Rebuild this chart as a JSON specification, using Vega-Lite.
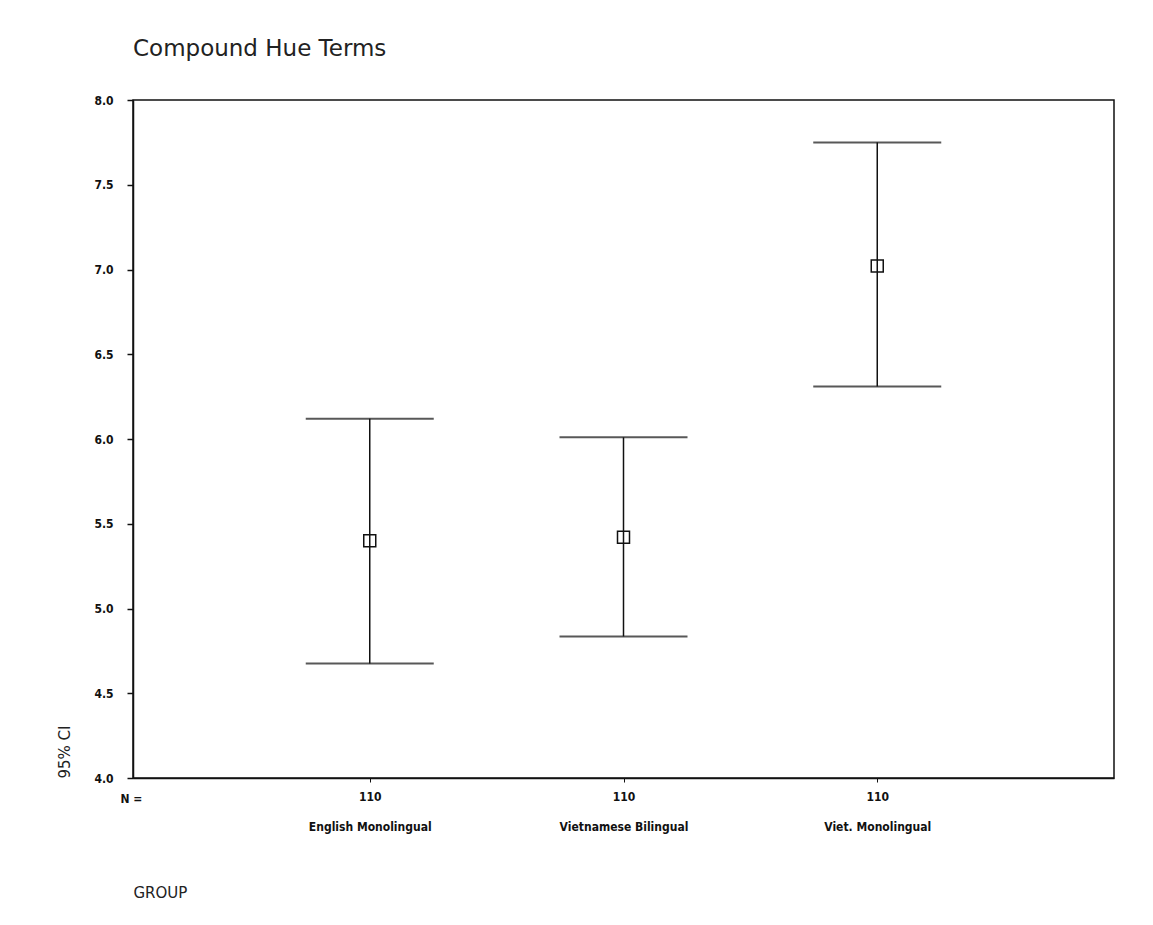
{
  "$schema": "https://vega.github.io/schema/vega-lite/v6.json",
  "autosize": "none",
  "padding": {"left": 133, "top": 100, "right": 39, "bottom": 147},
  "width": 981,
  "height": 678,
  "background": "white",
  "title": {
    "text": "Compound Hue Terms",
    "anchor": "start",
    "frame": "group",
    "font": "DejaVu Sans",
    "fontSize": 23,
    "fontWeight": "normal",
    "color": "#222222",
    "baseline": "alphabetic",
    "offset": 15
  },
  "data": {
    "values": [
      {"group": "English Monolingual", "n": 110, "mean": 5.40, "lower": 4.675, "upper": 6.12},
      {"group": "Vietnamese Bilingual", "n": 110, "mean": 5.42, "lower": 4.835, "upper": 6.01},
      {"group": "Viet. Monolingual", "n": 110, "mean": 7.02, "lower": 6.31, "upper": 7.75}
    ]
  },
  "config": {
    "view": {"stroke": "#111111", "strokeWidth": 1.5},
    "axis": {"grid": false}
  },
  "resolve": {"axis": {"x": "independent"}},
  "layer": [
    {
      "mark": {"type": "rule", "color": "#111111", "strokeWidth": 1.5},
      "encoding": {
        "x": {
          "field": "group",
          "type": "nominal",
          "sort": ["English Monolingual", "Vietnamese Bilingual", "Viet. Monolingual"],
          "scale": {"type": "point", "padding": 0.933},
          "axis": {
            "orient": "bottom",
            "title": "N =",
            "titleX": -2,
            "titleY": 20,
            "titleAlign": "center",
            "titleBaseline": "middle",
            "titleAngle": 0,
            "titleFont": "Liberation Sans Narrow, DejaVu Sans Condensed, sans-serif",
            "titleFontSize": 12,
            "titleFontWeight": "bold",
            "titleColor": "#111111",
            "labelAngle": 0,
            "labelExpr": "['110', datum.label]",
            "labelLineHeight": 30,
            "labelPadding": 9,
            "labelFont": "Liberation Sans Narrow, DejaVu Sans Condensed, sans-serif",
            "labelFontSize": 12,
            "labelFontWeight": "bold",
            "labelColor": "#111111",
            "tickSize": 4,
            "tickColor": "#111111",
            "tickWidth": 1,
            "domainColor": "#111111",
            "domainWidth": 1.5
          }
        },
        "y": {
          "field": "lower",
          "type": "quantitative",
          "scale": {"domain": [4, 8], "nice": false, "zero": false},
          "axis": {
            "title": "95% CI",
            "titleX": -69,
            "titleY": 678,
            "titleAngle": -90,
            "titleAlign": "left",
            "titleBaseline": "middle",
            "titleFont": "DejaVu Sans",
            "titleFontSize": 15,
            "titleFontWeight": "normal",
            "titleColor": "#222222",
            "values": [4, 4.5, 5, 5.5, 6, 6.5, 7, 7.5, 8],
            "format": ".1f",
            "labelFont": "Liberation Sans Narrow, DejaVu Sans Condensed, sans-serif",
            "labelFontSize": 12,
            "labelFontWeight": "bold",
            "labelColor": "#111111",
            "labelPadding": 14,
            "tickSize": 6,
            "tickColor": "#111111",
            "tickWidth": 1.5,
            "domainColor": "#111111",
            "domainWidth": 1.5
          }
        },
        "y2": {"field": "upper"}
      }
    },
    {
      "mark": {"type": "tick", "color": "#111111", "size": 128, "thickness": 2, "orient": "horizontal"},
      "encoding": {
        "x": {"field": "group", "type": "nominal", "sort": ["English Monolingual", "Vietnamese Bilingual", "Viet. Monolingual"], "axis": null},
        "y": {"field": "upper", "type": "quantitative"}
      }
    },
    {
      "mark": {"type": "tick", "color": "#111111", "size": 128, "thickness": 2, "orient": "horizontal"},
      "encoding": {
        "x": {"field": "group", "type": "nominal", "sort": ["English Monolingual", "Vietnamese Bilingual", "Viet. Monolingual"], "axis": null},
        "y": {"field": "lower", "type": "quantitative"}
      }
    },
    {
      "mark": {"type": "point", "shape": "square", "size": 144, "filled": false, "stroke": "#111111", "strokeWidth": 1.5, "opacity": 1},
      "encoding": {
        "x": {
          "field": "group",
          "type": "nominal",
          "sort": ["English Monolingual", "Vietnamese Bilingual", "Viet. Monolingual"],
          "axis": {
            "orient": "bottom",
            "title": "GROUP",
            "titleX": 0,
            "titleY": 114,
            "titleAlign": "left",
            "titleBaseline": "middle",
            "titleFont": "DejaVu Sans",
            "titleFontSize": 15,
            "titleFontWeight": "normal",
            "titleColor": "#222222",
            "labels": false,
            "ticks": false,
            "domain": false
          }
        },
        "y": {"field": "mean", "type": "quantitative"}
      }
    }
  ]
}
